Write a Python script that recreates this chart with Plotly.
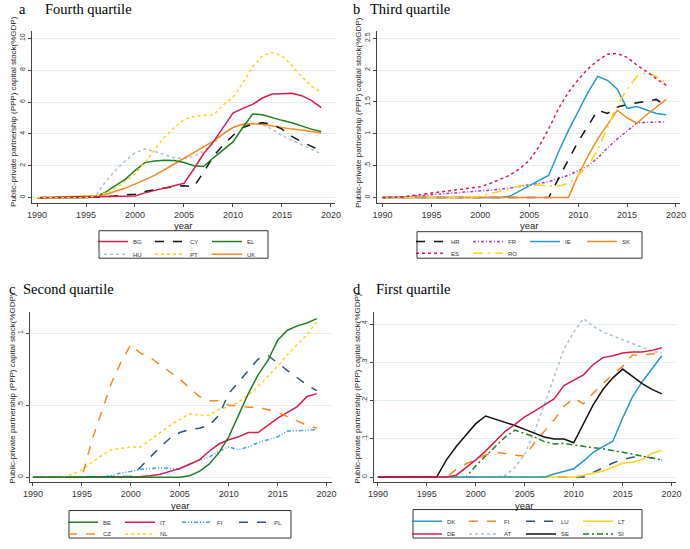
import plotly.graph_objects as go

years = list(range(1990, 2020))
xticks = [1990, 1995, 2000, 2005, 2010, 2015, 2020]

# ---------------- Panel a: Fourth quartile ----------------
a_BG = [0, 0.01, 0.02, 0.03, 0.04, 0.05, 0.06, 0.08, 0.1, 0.1, 0.1, 0.3, 0.45, 0.6, 0.75, 0.9, 1.8, 2.75, 3.5, 4.4, 5.3, 5.6, 5.85, 6.25, 6.5, 6.52, 6.55, 6.4, 6.1, 5.65]
a_CY = [0, 0, 0, 0, 0, 0.02, 0.03, 0.06, 0.1, 0.15, 0.22, 0.38, 0.5, 0.6, 0.7, 0.75, 0.68, 1.6, 2.6, 3.3, 3.9, 4.4, 4.62, 4.7, 4.6, 4.3, 3.85, 3.5, 3.2, 2.95]
a_EL = [0, 0, 0, 0, 0, 0, 0.05, 0.35, 0.75, 1.15, 1.7, 2.2, 2.3, 2.35, 2.33, 2.2, 2.0, 1.95, 2.5, 3.0, 3.5, 4.4, 5.25, 5.2, 5.0, 4.85, 4.7, 4.5, 4.3, 4.15]
a_HU = [0, 0, 0, 0, 0, 0, 0.15, 1.0, 1.7, 2.3, 2.8, 3.05, 2.9, 2.7, 2.5, 2.45, 2.6, 2.9, 3.4, 4.0, 4.45, 4.6, 4.65, 4.6, 4.3, 3.9, 3.6, 3.3, 3.0, 2.75]
a_PT = [0, 0, 0, 0, 0, 0, 0.1, 0.3, 0.6, 1.0, 1.5, 2.2, 3.0, 3.8, 4.4, 4.9, 5.1, 5.15, 5.2, 5.8, 6.3, 7.2, 8.2, 8.9, 9.1, 8.9, 8.3, 7.6, 7.0, 6.6]
a_UK = [0, 0.02, 0.04, 0.06, 0.08, 0.1, 0.12, 0.2, 0.4, 0.6, 0.85, 1.1, 1.4, 1.75, 2.1, 2.5, 2.85, 3.2, 3.55, 4.0, 4.4, 4.6, 4.65, 4.6, 4.5, 4.4, 4.3, 4.25, 4.15, 4.05]

# ---------------- Panel b: Third quartile ----------------
b_HR = [0] * 18 + [0.3, 0.6, 0.88, 1.12, 1.37, 1.32, 1.42, 1.46, 1.49, 1.51, 1.54, 1.43]
b_FR = [0, 0, 0.01, 0.02, 0.035, 0.05, 0.06, 0.07, 0.08, 0.09, 0.1, 0.11, 0.13, 0.15, 0.18, 0.2, 0.22, 0.25, 0.3, 0.35, 0.42, 0.5, 0.62, 0.78, 0.92, 1.05, 1.17, 1.18, 1.18, 1.19]
b_IE = [0] * 13 + [0.02, 0.1, 0.18, 0.26, 0.35, 0.72, 1.05, 1.35, 1.65, 1.9, 1.84, 1.7, 1.4, 1.43, 1.38, 1.32, 1.3]
b_SK = [0] * 20 + [0.35, 0.65, 0.92, 1.15, 1.37, 1.25, 1.17, 1.3, 1.42, 1.54]
b_ES = [0, 0, 0.01, 0.03, 0.05, 0.07, 0.09, 0.11, 0.13, 0.15, 0.17, 0.22, 0.28, 0.35, 0.45, 0.58, 0.8, 1.08, 1.4, 1.65, 1.85, 2.02, 2.15, 2.25, 2.26, 2.2, 2.08, 1.97, 1.87, 1.76]
b_RO = [0] * 10 + [0.02, 0.06, 0.1, 0.15, 0.18, 0.2, 0.19, 0.18, 0.18, 0.22, 0.35, 0.5, 0.75, 1.1, 1.45, 1.7, 1.9, 1.97, 1.9, 1.8]

# ---------------- Panel c: Second quartile ----------------
c_BE = [0] * 16 + [0.01, 0.04, 0.09, 0.17, 0.28, 0.43, 0.58, 0.71, 0.81, 0.95, 1.02, 1.05, 1.07, 1.1]
c_IT = [0] * 10 + [0.003, 0.005, 0.01, 0.02, 0.04, 0.06, 0.09, 0.12, 0.18, 0.23, 0.26, 0.28, 0.31, 0.31, 0.36, 0.41, 0.45, 0.49, 0.56, 0.58]
c_FI = [0] * 8 + [0.01, 0.03, 0.04, 0.055, 0.06, 0.065, 0.06, 0.055, 0.09, 0.12, 0.14, 0.18, 0.21, 0.19, 0.21, 0.24, 0.26, 0.28, 0.32, 0.32, 0.325, 0.33]
c_PL = [0] * 10 + [0.005, 0.07, 0.14, 0.21, 0.27, 0.31, 0.33, 0.34, 0.36, 0.43, 0.58, 0.66, 0.74, 0.82, 0.845, 0.79, 0.74, 0.69, 0.64, 0.6]
c_CZ = [0] * 6 + [0.25, 0.45, 0.65, 0.8, 0.92, 0.86, 0.83, 0.78, 0.73, 0.68, 0.62, 0.56, 0.53, 0.53, 0.5, 0.49, 0.485, 0.485, 0.47, 0.45, 0.42, 0.39, 0.36, 0.34]
c_NL = [0, 0, 0, 0, 0.02, 0.05, 0.1, 0.15, 0.19, 0.2, 0.21, 0.21, 0.26, 0.31, 0.36, 0.4, 0.44, 0.43, 0.43, 0.47, 0.49, 0.52, 0.57, 0.63, 0.7, 0.77, 0.85, 0.92, 0.99, 1.08]

# ---------------- Panel d: First quartile ----------------
d_DK = [0] * 18 + [0.008, 0.015, 0.022, 0.042, 0.065, 0.08, 0.094, 0.155, 0.21, 0.25, 0.285, 0.318]
d_FI = [0] * 8 + [0.02, 0.035, 0.045, 0.058, 0.065, 0.062, 0.057, 0.055, 0.09, 0.12, 0.15, 0.185, 0.207, 0.192, 0.22, 0.245, 0.27, 0.29, 0.32, 0.32, 0.323, 0.326]
d_LU = [0] * 22 + [0.012, 0.025, 0.037, 0.046, 0.052, 0.055, 0.05, 0.045]
d_LT = [0] * 21 + [0.005, 0.01, 0.016, 0.026, 0.036, 0.039, 0.046, 0.062, 0.07]
d_DE = [0] * 8 + [0.005, 0.025, 0.045, 0.068, 0.095, 0.12, 0.138, 0.158, 0.173, 0.188, 0.205, 0.24, 0.255, 0.268, 0.295, 0.313, 0.318, 0.325, 0.328, 0.328, 0.332, 0.339]
d_AT = [0] * 13 + [0.005, 0.025, 0.06, 0.12, 0.19, 0.26, 0.335, 0.38, 0.415, 0.395, 0.38, 0.37, 0.36, 0.35, 0.34, 0.33, 0.325]
d_SE = [0] * 7 + [0.045, 0.08, 0.11, 0.14, 0.16, 0.152, 0.144, 0.135, 0.125, 0.115, 0.105, 0.1, 0.1, 0.09, 0.14, 0.19, 0.23, 0.26, 0.283, 0.265, 0.245, 0.23, 0.218]
d_SI = [0] * 10 + [0.03, 0.055, 0.08, 0.105, 0.123, 0.115, 0.105, 0.093, 0.087, 0.088, 0.084, 0.08, 0.077, 0.074, 0.07, 0.065, 0.06, 0.055, 0.05, 0.045]

a_yticks = [0, 2, 4, 6, 8, 10]
a_yticktext = ["0", "2", "4", "6", "8", "10"]
b_yticks = [0, 0.5, 1, 1.5, 2, 2.5]
b_yticktext = ["0", ".5", "1", "1.5", "2", "2.5"]
c_yticks = [0, 0.5, 1]
c_yticktext = ["0", ".5", "1"]
d_yticks = [0, 0.1, 0.2, 0.3, 0.4]
d_yticktext = ["0", ".1", ".2", ".3", ".4"]

# colours / styles
CRIMSON = "#d81c4c"
GREEN = "#1f7f22"
ORANGE = "#f7891f"
BLUE = "#2299cf"
YELLOW = "#ffd21a"
GREYBLUE = "#a9c0d0"
PURPLE = "#a43ec6"
LBLUE = "#37a6dd"
NAVY = "#2a5384"
BLACK = "#111111"

W, H = 690, 549

def px_x(v):
    return v / W

def px_y(v):
    return 1 - v / H

fig = go.Figure()

# (values, name, color, dash, xaxis, yaxis, legend)
series = [
    (a_HU, "HU", GREYBLUE, "dot", "x", "y", "legend2"),
    (a_UK, "UK", ORANGE, "solid", "x", "y", "legend2"),
    (a_CY, "CY", BLACK, "dash", "x", "y", "legend"),
    (a_EL, "EL", GREEN, "solid", "x", "y", "legend"),
    (a_BG, "BG", CRIMSON, "solid", "x", "y", "legend"),
    (a_PT, "PT", YELLOW, "dot", "x", "y", "legend2"),

    (b_FR, "FR", PURPLE, "3px,2px,1px,2px", "x2", "y2", "legend3"),
    (b_HR, "HR", BLACK, "dash", "x2", "y2", "legend3"),
    (b_IE, "IE", BLUE, "solid", "x2", "y2", "legend3"),
    (b_SK, "SK", ORANGE, "solid", "x2", "y2", "legend3"),
    (b_RO, "RO", YELLOW, "10px,5px,2px,5px", "x2", "y2", "legend4"),
    (b_ES, "ES", CRIMSON, "dot", "x2", "y2", "legend4"),

    (c_FI, "FI", LBLUE, "4px,2px,1px,2px,1px,2px", "x3", "y3", "legend5"),
    (c_IT, "IT", CRIMSON, "solid", "x3", "y3", "legend5"),
    (c_NL, "NL", YELLOW, "dot", "x3", "y3", "legend6"),
    (c_PL, "PL", NAVY, "dash", "x3", "y3", "legend5"),
    (c_CZ, "CZ", ORANGE, "dash", "x3", "y3", "legend6"),
    (c_BE, "BE", GREEN, "solid", "x3", "y3", "legend5"),

    (d_AT, "AT", GREYBLUE, "dot", "x4", "y4", "legend8"),
    (d_SI, "SI", GREEN, "6px,3px,2px,3px", "x4", "y4", "legend8"),
    (d_LU, "LU", NAVY, "dash", "x4", "y4", "legend7"),
    (d_LT, "LT", YELLOW, "solid", "x4", "y4", "legend7"),
    (d_DK, "DK", BLUE, "solid", "x4", "y4", "legend7"),
    (d_FI, "FI", ORANGE, "dash", "x4", "y4", "legend7"),
    (d_SE, "SE", BLACK, "solid", "x4", "y4", "legend8"),
    (d_DE, "DE", CRIMSON, "solid", "x4", "y4", "legend8"),
]

legend_order = {
    "legend": ["BG", "CY", "EL"], "legend2": ["HU", "PT", "UK"],
    "legend3": ["HR", "FR", "IE", "SK"], "legend4": ["ES", "RO"],
    "legend5": ["BE", "IT", "FI", "PL"], "legend6": ["CZ", "NL"],
    "legend7": ["DK", "FI", "LU", "LT"], "legend8": ["DE", "AT", "SE", "SI"],
}

for vals, name, color, dash, xa, ya, lg in series:
    assert len(vals) == len(years), name
    rank = legend_order[lg].index(name)
    fig.add_trace(go.Scatter(
        x=years, y=vals, name=name, mode="lines",
        line=dict(color=color, width=1.5, dash=dash),
        xaxis=xa, yaxis=ya, legend=lg, legendrank=rank + 1,
        hoverinfo="skip",
    ))

AXC = "#444444"
TICKC = "#333333"

def xaxis_cfg(dom, rng, anchor):
    return dict(domain=dom, range=rng, anchor=anchor, tickvals=xticks,
                showline=True, linecolor=AXC, linewidth=1, ticks="outside",
                ticklen=3, tickcolor=AXC, tickfont=dict(family="Liberation Sans, Arial", size=9, color=TICKC),
                showgrid=False, zeroline=False, automargin=False)

def yaxis_cfg(dom, rng, anchor, tv, tt):
    return dict(domain=dom, range=rng, anchor=anchor, tickvals=tv, ticktext=tt,
                tickangle=-90, showline=True, linecolor=AXC, linewidth=1, ticks="outside",
                ticklen=3, tickcolor=AXC, tickfont=dict(family="Liberation Sans, Arial", size=7, color=TICKC),
                showgrid=True, gridcolor="#e2edf0", gridwidth=1, zeroline=False, automargin=False)

fig.update_layout(
    width=W, height=H, margin=dict(l=0, r=0, t=0, b=0),
    paper_bgcolor="white", plot_bgcolor="white",
    xaxis=xaxis_cfg([px_x(32), px_x(335)], [1989.49, 2020.41], "y"),
    yaxis=yaxis_cfg([px_y(207), px_y(32)], [-0.35, 10.43], "x", a_yticks, a_yticktext),
    xaxis2=xaxis_cfg([px_x(377), px_x(680)], [1989.44, 2020.41], "y2"),
    yaxis2=yaxis_cfg([px_y(207), px_y(32)], [-0.089, 2.607], "x2", b_yticks, b_yticktext),
    xaxis3=xaxis_cfg([px_x(30), px_x(332)], [1989.7, 2020.55], "y3"),
    yaxis3=yaxis_cfg([px_y(491), px_y(318)], [-0.034, 1.145], "x3", c_yticks, c_yticktext),
    xaxis4=xaxis_cfg([px_x(374), px_x(676)], [1989.6, 2020.45], "y4"),
    yaxis4=yaxis_cfg([px_y(491), px_y(318)], [-0.013, 0.432], "x4", d_yticks, d_yticktext),
)

# legends, one per row
leg_font = dict(family="Liberation Sans, Arial", size=6, color="#333333")
leg_pos = {
    "legend": (93, 246), "legend2": (93, 259),
    "legend3": (411, 246), "legend4": (411, 258),
    "legend5": (63, 532), "legend6": (63, 544),
    "legend7": (407, 531), "legend8": (407, 544),
}
for key, (lx, ly) in leg_pos.items():
    fig.update_layout({key: dict(
        orientation="h", x=px_x(lx), y=px_y(ly), xanchor="left", yanchor="middle",
        xref="paper", yref="paper", font=leg_font, bgcolor="rgba(0,0,0,0)",
        borderwidth=0, itemwidth=30, entrywidth=12, entrywidthmode="pixels",
        traceorder="normal", itemclick=False, itemdoubleclick=False,
    )})

# legend boxes
boxes = [(99, 235, 268, 263), (417, 236, 642, 263), (69, 520, 291, 548), (413, 519, 642, 548)]
for x0, y0, x1, y1 in boxes:
    fig.add_shape(type="rect", xref="paper", yref="paper",
                  x0=px_x(x0), x1=px_x(x1), y0=px_y(y1), y1=px_y(y0),
                  line=dict(color="#333333", width=1), fillcolor="rgba(0,0,0,0)")

# annotations: panel titles, axis titles
serif = "Liberation Serif, Times New Roman, serif"
sans = "Liberation Sans, Arial"
titles = [("a", 17, "Fourth quartile", 43, 9), ("b", 351, "Third quartile", 368, 9),
          ("c", 7, "Second quartile", 21, 294), ("d", 351, "First quartile", 374, 294)]
for letter, lx, text, tx, cy in titles:
    fig.add_annotation(text=letter, x=px_x(lx), y=px_y(cy), xref="paper", yref="paper",
                       xanchor="left", yanchor="middle", showarrow=False,
                       font=dict(family=serif, size=14.5, color="black"))
    fig.add_annotation(text=text, x=px_x(tx), y=px_y(cy), xref="paper", yref="paper",
                       xanchor="left", yanchor="middle", showarrow=False,
                       font=dict(family=serif, size=14.5, color="black"))

ytitle = "Public-private partnership (PPP) capital stock(%GDP)"
for cx, cy in [(14, 114), (359, 114), (13, 396), (358, 396)]:
    fig.add_annotation(text=ytitle, x=px_x(cx), y=px_y(cy), xref="paper", yref="paper",
                       xanchor="center", yanchor="middle", textangle=-90, showarrow=False,
                       font=dict(family=sans, size=8, color="#222222"))
for cx, cy in [(183, 229.5), (529, 229.5), (180, 514.5), (524, 514.5)]:
    fig.add_annotation(text="year", x=px_x(cx), y=px_y(cy), xref="paper", yref="paper",
                       xanchor="center", yanchor="middle", showarrow=False,
                       font=dict(family=sans, size=9.5, color="#222222"))

fig.write_html(
    "out.html",
    config={"displayModeBar": False},
    post_script="document.body.style.margin='0';document.body.style.padding='0';",
)
